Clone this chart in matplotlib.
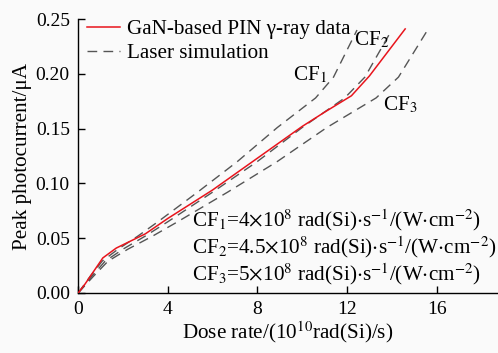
import numpy as np, matplotlib
matplotlib.use("Agg")
import matplotlib.pyplot as plt

plt.rcParams['font.family'] = ['Liberation Serif', 'DejaVu Serif']
plt.rcParams['mathtext.fontset'] = 'stix'

# measured GaN PIN gamma-ray response
dose_meas = [0, 0.3, 1.1, 1.7, 3.0, 4.0, 6.0, 8.0, 10.0, 11.0, 12.2, 13.0, 14.6]
curr_meas = [0, 0.008, 0.032, 0.041, 0.054, 0.068, 0.094, 0.123, 0.152, 0.165, 0.180, 0.198, 0.241]

# laser simulation, same photocurrent points, dose axis for each CF
curr_sim = [0, 0.015, 0.029, 0.040, 0.052, 0.065, 0.092, 0.120, 0.151, 0.178, 0.197, 0.240]
dose_cf1 = [0, 0.53, 1.07, 1.78, 2.67, 3.56, 5.33, 7.11, 8.89, 10.6, 11.4, 12.45]
dose_cf2 = [0, 0.60, 1.20, 2.00, 3.00, 4.00, 6.00, 8.00, 10.0, 11.9, 12.8, 14.0]
dose_cf3 = [0, 0.67, 1.33, 2.22, 3.33, 4.44, 6.67, 8.89, 11.1, 13.3, 14.3, 15.6]

cf_labels = [r'CF$_1$', r'CF$_2$', r'CF$_3$']
cf_pos = [(10.36, 0.199), (13.1, 0.231), (14.4, 0.1715)]
cf_notes = [r'CF$_1$=4$\times$10$^8$ rad(Si)$\cdot$s$^{-1}$/(W$\cdot$cm$^{-2}$)',
            r'CF$_2$=4.5$\times$10$^8$ rad(Si)$\cdot$s$^{-1}$/(W$\cdot$cm$^{-2}$)',
            r'CF$_3$=5$\times$10$^8$ rad(Si)$\cdot$s$^{-1}$/(W$\cdot$cm$^{-2}$)']

FS = 15.2
fig = plt.figure(figsize=(4.98, 3.53), dpi=100, facecolor='#fafafa')
ax = fig.add_axes([0.157, 0.170, 0.841, 0.776])
ax.set_facecolor('#fafafa')

dash = dict(color='#555555', lw=1.0, ls=(0, (7, 4.5)))
ax.plot(dose_meas, curr_meas, color='#e8141c', lw=1.1, label='GaN-based PIN γ-ray data', zorder=3)
ax.plot(dose_cf1, curr_sim, label='Laser simulation', **dash)
ax.plot(dose_cf2, curr_sim, **dash)
ax.plot(dose_cf3, curr_sim, **dash)

for lab, (x, y) in zip(cf_labels, cf_pos):
    ax.text(x, y, lab, fontsize=FS, ha='center', va='center')
for i, note in enumerate(cf_notes):
    ax.text(5.1, 0.0666 - i * 0.0245, note, fontsize=FS, ha='left', va='center')

ax.set_xlim(0, 18.7)
ax.set_ylim(0, 0.25)
ax.set_xticks([0, 4, 8, 12, 16])
ax.set_yticks([0, 0.05, 0.10, 0.15, 0.20, 0.25])
ax.set_yticklabels(['0.00', '0.05', '0.10', '0.15', '0.20', '0.25'])
ax.tick_params(direction='in', length=5, width=1, labelsize=14, pad=6)
for s in ['top', 'right']:
    ax.spines[s].set_visible(False)
for s in ['left', 'bottom']:
    ax.spines[s].set_linewidth(1.0)
ax.set_xlabel(r'Dose rate/(10$^{10}$rad(Si)/s)', fontsize=FS, labelpad=1)
ax.set_ylabel('Peak photocurrent/μA', fontsize=FS, labelpad=3)
ax.legend(loc='upper left', bbox_to_anchor=(0.0, 1.03), frameon=False, fontsize=FS,
          handlelength=1.6, handletextpad=0.3, labelspacing=0.2, borderaxespad=0.1, borderpad=0.3)

fig.savefig('out.png', dpi=100, facecolor=fig.get_facecolor())
